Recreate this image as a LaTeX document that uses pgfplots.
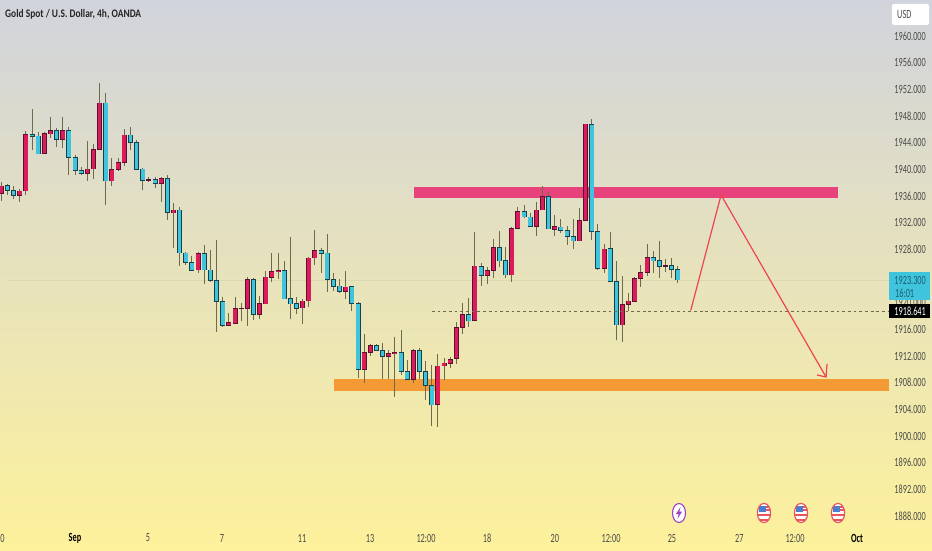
\documentclass[border=0pt]{standalone}
\usepackage{fontspec}
\setmainfont{Carlito}
\newfontfamily\tickfont[FakeStretch=0.66]{Carlito}
\newfontfamily\titlefont[FakeStretch=0.82]{Carlito}
\usepackage{pgfplots}
\usepackage{pgfplotstable}
\pgfplotsset{compat=1.18}
\definecolor{bgtop}{HTML}{D1D4DC}
\definecolor{bgmid}{HTML}{EFEBBB}
\definecolor{bgbot}{HTML}{FDF19B}
\definecolor{upcol}{HTML}{DB1B5B}
\definecolor{dncol}{HTML}{40C4DD}
\definecolor{upedge}{HTML}{5A1030}
\definecolor{dnedge}{HTML}{16404A}
\definecolor{wick}{HTML}{6E6A4E}
\definecolor{zonepink}{HTML}{E8427C}
\definecolor{zoneorange}{HTML}{F49A34}
\definecolor{arrowred}{HTML}{EE4450}
\definecolor{ticktxt}{HTML}{4A4A48}
\definecolor{lastcyan}{HTML}{40C4DD}
\definecolor{lasttxt}{HTML}{1A5F70}
\definecolor{flagred}{HTML}{E8555A}
\definecolor{flagblue}{HTML}{4A7FD0}
\definecolor{boltpurple}{HTML}{9A3FC0}
% i = bar number, h = high, t = body top, b = body bottom, l = low
% rising candles: open = b, close = t
\pgfplotstableread{
i h t b l
0 1938.15 1937.5 1936.35 1935.25
3 1937.1 1936.75 1936.1 1935.15
4 1945.8 1945.25 1936.75 1936.1
7 1945.55 1945.4 1942.35 1942.3
8 1947.8 1945.8 1945.3 1944.75
10 1947.85 1945.85 1944.5 1943.2
14 1944.25 1940.05 1939.35 1938.3
15 1943.75 1943 1940.05 1938.6
16 1952.95 1949.95 1943 1943
18 1941.65 1940 1938.25 1937.45
19 1941.75 1941.05 1940 1939.75
20 1946.1 1945.15 1941 1940.5
24 1938.9 1938.45 1938.35 1938.1
26 1938.9 1938.65 1937.9 1935.1
28 1934.9 1933.9 1933.45 1928.15
32 1927.6 1927.35 1924.9 1924.5
37 1918.45 1917 1916.6 1916.5
38 1920.9 1919.15 1916.9 1916.85
39 1919.9 1919.15 1919.05 1917.25
40 1923.8 1923.45 1919.1 1916.5
42 1921 1919.85 1918.2 1917.6
43 1924.75 1923.85 1919.8 1919.8
44 1927.4 1924.7 1923.8 1923.15
45 1927.45 1924.8 1924.65 1923.5
49 1920.5 1920.25 1919.2 1916.85
50 1926.9 1926.7 1920.25 1919.3
51 1930.9 1927.85 1926.7 1925.65
56 1924.75 1922.35 1921.7 1920.5
59 1915.3 1912.55 1910 1907.9
60 1913.8 1913.6 1912.55 1912.05
63 1912.85 1912.4 1911.9 1908.5
64 1914.8 1912.55 1912.4 1905.9
67 1913 1912.85 1908.5 1907.9
71 1912.25 1910.5 1904.7 1901.4
72 1911.65 1910.95 1910.5 1908.4
73 1911.9 1911.5 1910.9 1910.2
74 1917.05 1916.3 1911.6 1910.8
75 1919.9 1918.25 1916.3 1915.25
77 1930.6 1925.5 1917.3 1917.25
79 1925.4 1924.8 1924.05 1922.85
80 1929.55 1928.3 1924.8 1923.65
83 1931.3 1931.15 1924.15 1923.1
84 1934.3 1933.7 1931.15 1931.15
87 1935.05 1933.9 1931.45 1930
88 1937.45 1935.95 1933.9 1933.85
90 1933.2 1931.4 1931 1930
94 1934.2 1932.35 1929.25 1929.25
95 1946.8 1946.8 1932.3 1932.25
98 1928.8 1928.05 1925.15 1924.5
101 1924 1919.7 1916.65 1914.15
102 1921.45 1920.25 1919.7 1918.75
103 1923.9 1923.65 1920.2 1920.15
104 1925.65 1924.5 1923.65 1922.3
105 1928.85 1926.8 1924.5 1924
108 1926.5 1925.55 1925.45 1924.55
}\uptable
% falling candles: open = t, close = b
\pgfplotstableread{
i h t b l
1 1937.8 1937.55 1936.85 1936.1
2 1937.55 1936.85 1936.1 1935.6
5 1949 1945.25 1944.9 1942.9
6 1945.65 1945 1942.3 1942.25
9 1946.25 1945.8 1944.45 1943.35
11 1946.4 1945.85 1941.75 1939.15
12 1942.2 1941.8 1939.8 1939.1
13 1940.3 1939.85 1939.35 1939.1
17 1951.5 1949.95 1938.25 1934.6
21 1946.35 1945.15 1944 1942.9
22 1944.4 1944 1940 1940
23 1940.2 1940.05 1938.35 1936.9
25 1938.9 1938.5 1937.85 1937.15
27 1939.1 1938.65 1933.5 1932.45
29 1934.3 1933.9 1927.45 1925.5
30 1927.6 1927.45 1926.05 1925.65
31 1927 1926.05 1924.85 1924.8
33 1928.65 1927.35 1924.9 1922.85
34 1927.85 1924.9 1923.35 1923.15
35 1929.4 1923.3 1920.15 1915.55
36 1920.9 1920.15 1916.6 1916.3
41 1923.65 1923.45 1918.2 1917.45
46 1926.2 1924.8 1920.55 1920.5
47 1929.8 1920.6 1919.8 1917.55
48 1920.85 1919.85 1919.15 1918.35
52 1928.15 1927.85 1927.4 1924.4
53 1930.25 1927.45 1923.5 1921.6
54 1924.5 1923.5 1922.45 1921.75
55 1923.5 1922.5 1921.65 1921.5
57 1922.55 1922.4 1919.9 1918.8
58 1920.15 1919.9 1910 1908.65
61 1913.8 1913.6 1912.8 1912.75
62 1914 1912.85 1911.9 1908.5
65 1915.9 1912.55 1909.65 1909.15
66 1911.4 1909.65 1908.5 1908.5
68 1913.15 1912.85 1909.65 1908.5
69 1911.25 1909.65 1907.55 1905.4
70 1910.6 1907.55 1904.65 1901.45
76 1920.65 1918.25 1917.25 1916.3
78 1926 1925.45 1924.05 1922.55
81 1930.8 1928.3 1926.25 1925.3
82 1928.3 1926.3 1924.15 1923.65
85 1934.65 1933.7 1932.85 1932.75
86 1933.4 1932.85 1931.45 1931.4
89 1936.55 1935.95 1931.05 1931
91 1932.55 1931.35 1930.85 1930.5
92 1931.55 1930.85 1929.9 1928.7
93 1932.5 1929.9 1929.25 1928.1
96 1947.5 1946.75 1930.7 1929.4
97 1931.8 1930.7 1925.15 1924.9
99 1930.65 1928.1 1923.15 1923.15
100 1926.3 1923.2 1916.65 1914.4
106 1927.8 1926.8 1926.25 1924.4
107 1929.25 1926.3 1925.4 1923.65
109 1926.75 1925.55 1925 1923.65
110 1925.5 1925 1923.4 1922.9
}\downtable
\pgfplotsset{
  wickplot/.style={draw=none,mark=none,forget plot,
    error bars/.cd,y dir=both,y explicit,error mark=none,
    error bar style={draw=wick,line width=1pt}},
  edgeplot/.style={draw=none,mark=none,forget plot,
    error bars/.cd,y dir=both,y explicit,error mark=none,
    error bar style={draw=#1,line width=5pt}},
  fillplot/.style={draw=none,mark=none,forget plot,
    error bars/.cd,y dir=both,y explicit,error mark=none,
    error bar style={draw=#1,line width=3.6pt}},
}
\newcommand{\candles}[3]{%
  \addplot[wickplot] table[x=i,y=t,
    y error plus expr=\thisrow{h}-\thisrow{t},
    y error minus expr=\thisrow{t}-\thisrow{l}] {#1};
  \addplot[edgeplot=#3] table[x=i,y=t,
    y error plus expr=0.05,
    y error minus expr=\thisrow{t}-\thisrow{b}+0.05] {#1};
  \addplot[fillplot=#2] table[x=i,y expr=\thisrow{t}-0.06,
    y error plus expr=0,
    y error minus expr={max(\thisrow{t}-\thisrow{b}-0.12,0)}] {#1};
}
\begin{document}
\begin{tikzpicture}
\begin{axis}[
  scale only axis,width=932pt,height=550pt,
  xmin=-0.21,xmax=151.33,ymin=1882.9,ymax=1965.4,
  axis line style={draw=none},
  major tick length=0pt,
  axis background/.style={shade,top color=bgtop,middle color=bgmid,bottom color=bgbot},
  ticklabel pos=right,
  ytick={1888,1892,...,1960},
  yticklabels={1888.000,1892.000,1896.000,1900.000,1904.000,1908.000,1912.000,1916.000,1920.000,1924.000,1928.000,1932.000,1936.000,1940.000,1944.000,1948.000,1952.000,1956.000,1960.000},
  yticklabel style={anchor=east,xshift=-6pt,inner sep=0pt,font=\tickfont\fontsize{12.5}{13}\selectfont,text=ticktxt},
  xtick={0.2,11.98,23.85,35.9,48.9,59.95,69.05,79,90,99.15,109.05,120,129.05,139.15},
  xticklabels={0,\textcolor{black}{\bfseries Sep},5,7,11,13,12:00,18,20,12:00,25,27,12:00,\textcolor{black}{\bfseries Oct}},
  xticklabel pos=lower,
  xticklabel style={anchor=center,yshift=12pt,inner sep=0pt,font=\tickfont\fontsize{12.5}{13}\selectfont,text=ticktxt},
]
% faint current-price line
\addplot[forget plot,draw=wick,opacity=0.09,line width=0.7pt] coordinates {(1,1923.3)(144.3,1923.3)};
% zones
\addplot[forget plot,fill=zonepink,draw=none] coordinates {(67.1,1937.35)(136.05,1937.35)(136.05,1935.7)(67.1,1935.7)} -- cycle;
\addplot[forget plot,fill=zoneorange,draw=none] coordinates {(54.1,1908.55)(144.3,1908.55)(144.3,1906.75)(54.1,1906.75)} -- cycle;
% candles
\candles{\uptable}{upcol}{upedge}
\candles{\downtable}{dncol}{dnedge}
% dashed level
\addplot[forget plot,draw=wick,line width=1.2pt,dash pattern=on 2.8pt off 2.9pt] coordinates {(70,1918.641)(144.3,1918.641)};
% projected move
\addplot[forget plot,draw=arrowred,line width=1.2pt] coordinates {(112.1,1918.83)(117.03,1936.15)(134.1,1908.85)};
\addplot[forget plot,draw=arrowred,line width=1.2pt] coordinates {(132.63,1909.15)(134.1,1908.85)(134.26,1910.8)};
\end{axis}
\begin{scope}[x=1pt,y=1pt]
% title
\node[anchor=west,inner sep=0pt,text=black!85,font=\titlefont\bfseries\fontsize{11.5}{12}\selectfont] at (5,535.5) {Gold Spot / U.S. Dollar, 4h, OANDA};
% currency box
\fill[white,rounded corners=2pt] (892,525) rectangle (929,546);
\node[anchor=west,inner sep=0pt,text=ticktxt,font=\tickfont\fontsize{12.5}{13}\selectfont] at (897,535.5) {USD};
% last price
\fill[lastcyan] (889,250) rectangle (930,278);
\node[anchor=east,inner sep=0pt,text=lasttxt,font=\tickfont\fontsize{12.5}{13}\selectfont] at (926,270) {1923.300};
\node[anchor=west,inner sep=0pt,text=lasttxt,font=\tickfont\fontsize{12.5}{13}\selectfont] at (895,257) {16:01};
\fill[black] (889,232) rectangle (930,246);
\node[anchor=east,inner sep=0pt,text=white,font=\tickfont\fontsize{12.5}{13}\selectfont] at (926,239) {1918.641};
% event icons
\fill[white] (679,37) ellipse (7 and 10);
\draw[boltpurple,line width=1.1pt] (679,37) ellipse (6.5 and 9.5);
\fill[boltpurple] (680.5,43) -- (676,36) -- (678.8,36) -- (677.5,31) -- (682,38.5) -- (679.3,38.5) -- cycle;
\foreach \fx in {764,801,838}{
  \fill[white] (\fx,37) ellipse (7 and 10);
  \begin{scope}
    \clip (\fx,37) ellipse (6.4 and 9.4);
    \fill[flagblue] (\fx-5,38.5) rectangle (\fx+2,44);
    \fill[flagred] (\fx+2,42.5) rectangle (\fx+7,44);
    \fill[flagred] (\fx+2,39.5) rectangle (\fx+7,41);
    \fill[flagred] (\fx-7,34) rectangle (\fx+7,36);
    \fill[flagred] (\fx-7,29) rectangle (\fx+7,31.5);
  \end{scope}
  \draw[flagred,line width=1.2pt] (\fx,37) ellipse (6.6 and 9.6);
}
\pgfresetboundingbox
\path[use as bounding box] (0,0) rectangle (932,550);
\end{scope}
\end{tikzpicture}
\end{document}
